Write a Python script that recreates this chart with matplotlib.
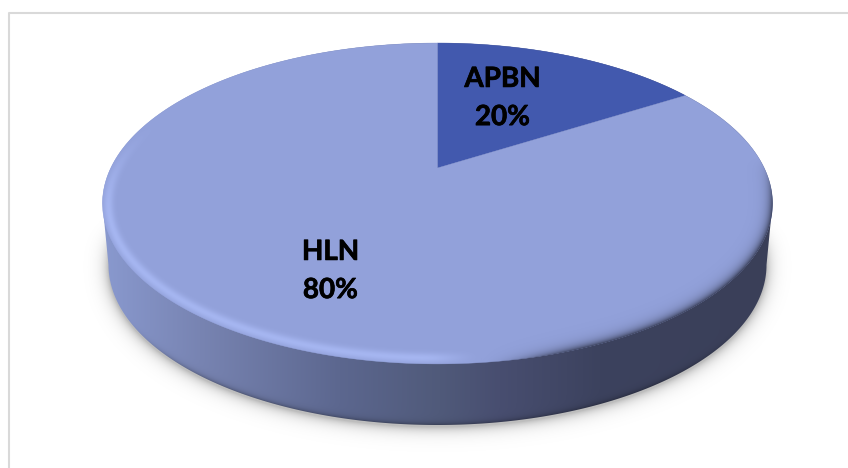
#!/usr/bin/env python3
'''
Tilted pie of APBN / HLN funding, drawn on a pixel sized axes.
matplotlib has no real 3D pie so the perspective is mapped by hand.
'''
import numpy as np
import matplotlib
matplotlib.use('Agg')
import matplotlib.pyplot as plt
import matplotlib.patheffects as pe
from matplotlib.patches import Polygon

names = ['APBN', 'HLN']
printed_labels = ['20%', '80%']
# the slice as drawn is narrower than its printed label says
drawn_share = [16.1, 83.9]
slice_colors = ['#4259ae', '#92a1da']

W, H = 848, 468
CX, APEX_Y = 437.5, 168.0
TOP = (CX, 203.5, 335.0, 160.5)     # cx, cy, rx, ry of the top face
BOTTOM = (CX, 265.0, 329.0, 160.0)  # same for the underside

# projective map of the unit circle onto the top face
K, B, A = 0.221, 152.6, 326.7

def project(theta):
    # theta is clockwise from the back of the pie
    u, v = np.sin(theta), np.cos(theta)
    d = 1 + K * v
    return CX + A * u / d, APEX_Y - B * v / d

def ellipse_pts(e, t0, t1, n=200):
    t = np.radians(np.linspace(t0, t1, n))
    return e[0] + e[2] * np.cos(t), e[1] + e[3] * np.sin(t)

def smooth(a, b, x):
    s = np.clip((x - a) / (b - a), 0, 1)
    return s * s * (3 - 2 * s)

def edge_dist(e, X, Y):
    # rough distance in pixels to an ellipse outline, positive inside
    dx, dy = X - e[0], Y - e[1]
    r = np.sqrt((dx / e[2])**2 + (dy / e[3])**2) + 1e-6
    g = np.sqrt((dx / e[2]**2)**2 + (dy / e[3]**2)**2) / r + 1e-9
    return (1 - r) / g

fig = plt.figure(figsize=(W / 100, H / 100), dpi=100)
ax = fig.add_axes([0, 0, 1, 1])
ax.set_xlim(0, W)
ax.set_ylim(H, 0)
ax.axis('off')

# frame of the slide, only top and left are in the crop
ax.plot([9, 9, W], [H, 12.5, 12.5], color='#d9d9d9', lw=1.5, zorder=1)

X, Y = np.meshgrid(np.arange(W) + 0.5, np.arange(H) + 0.5)
extent = (0, W, H, 0)

# soft shadow under the disc
d_out = -edge_dist(BOTTOM, X, Y - 2)
shadow = np.zeros((H, W, 4))
shadow[..., 3] = np.where(d_out > 0, 0.26 * np.exp(-d_out / 6.0), 0.26)
shadow[..., 3] *= smooth(200, 250, Y)
ax.imshow(shadow, extent=extent, zorder=2, aspect='auto')

# side wall, horizontal gradient
stops_x = [100, 200, 340, 440, 500, 600, 780]
stops_c = np.array([[138, 154, 208], [120, 132, 178], [92, 103, 143],
                    [80, 90, 122], [72, 78, 112], [60, 66, 94], [58, 63, 88]]) / 255.0
side = np.ones((H, W, 3))
for i in range(3):
    side[..., i] = np.interp(X, stops_x, stops_c[:, i])
# thin darker line along the lower edge of the wall
low = np.exp(-np.clip(edge_dist(BOTTOM, X, Y), 0, None) / 2.5) * smooth(0.3, 0.8, (Y - BOTTOM[1]) / BOTTOM[3])
side *= (1 - 0.3 * low)[..., None]
side_im = ax.imshow(side, extent=extent, zorder=3, aspect='auto')
bx, by = ellipse_pts(BOTTOM, 180, 0)
tx, ty = ellipse_pts(TOP, 360, 180)
side_clip = Polygon(np.c_[np.r_[bx, tx], np.r_[by, ty]], closed=True,
                    transform=ax.transData, fc='none', ec='none')
ax.add_patch(side_clip)
side_im.set_clip_path(side_clip)

# top face slices
start = 0.0
total = sum(drawn_share)
for share, color in zip(drawn_share, slice_colors):
    end = start + share / total * 2 * np.pi
    th = np.linspace(start, end, 400)
    px, py = project(th)
    ax.add_patch(Polygon(np.c_[np.r_[CX, px], np.r_[APEX_Y, py]], closed=True,
                         fc=color, ec=color, lw=0.3, zorder=4))
    start = end

# bevel round the rim: light on the left, dark on the right
d_in = edge_dist(TOP, X, Y)
xn = (X - TOP[0]) / TOP[2]
yn = (Y - TOP[1]) / TOP[3]
inside = smooth(-0.8, 0.4, d_in)
front = smooth(-0.55, 0.1, yn)
light_w = (1 - smooth(-0.05, 0.14, xn)) * front
dark_w = smooth(0.12, 0.45, xn) * smooth(-0.3, 0.05, yn)

bevel = np.zeros((H, W, 4))
light_a = 0.62 * np.exp(-((d_in - 6.0) / 5.0)**2) * light_w
dark_a = 0.95 * np.exp(-np.clip(d_in, 0, None) / 4.5) * dark_w
a = light_a + dark_a + 1e-9
bevel[..., 0] = (light_a * 178 + dark_a * 60) / a / 255
bevel[..., 1] = (light_a * 195 + dark_a * 66) / a / 255
bevel[..., 2] = (light_a * 255 + dark_a * 92) / a / 255
bevel[..., 3] = np.clip(a, 0, 1) * inside
ax.imshow(bevel, extent=extent, zorder=5, aspect='auto')

ax.set_xlim(0, W)
ax.set_ylim(H, 0)

# labels, a thin stroke brings Lato closer to the heavier original
label_pos = [(502.5, 98), (330.5, 271)]
for name, pct, (lx, ly) in zip(names, printed_labels, label_pos):
    t = ax.text(lx, ly, name + '\n' + pct, ha='center', va='center', family='Lato',
                fontweight='bold', fontsize=20, color='black', linespacing=1.58,
                zorder=6)
    t.set_path_effects([pe.withStroke(linewidth=0.5, foreground='black')])

fig.savefig('out.png', dpi=100)
